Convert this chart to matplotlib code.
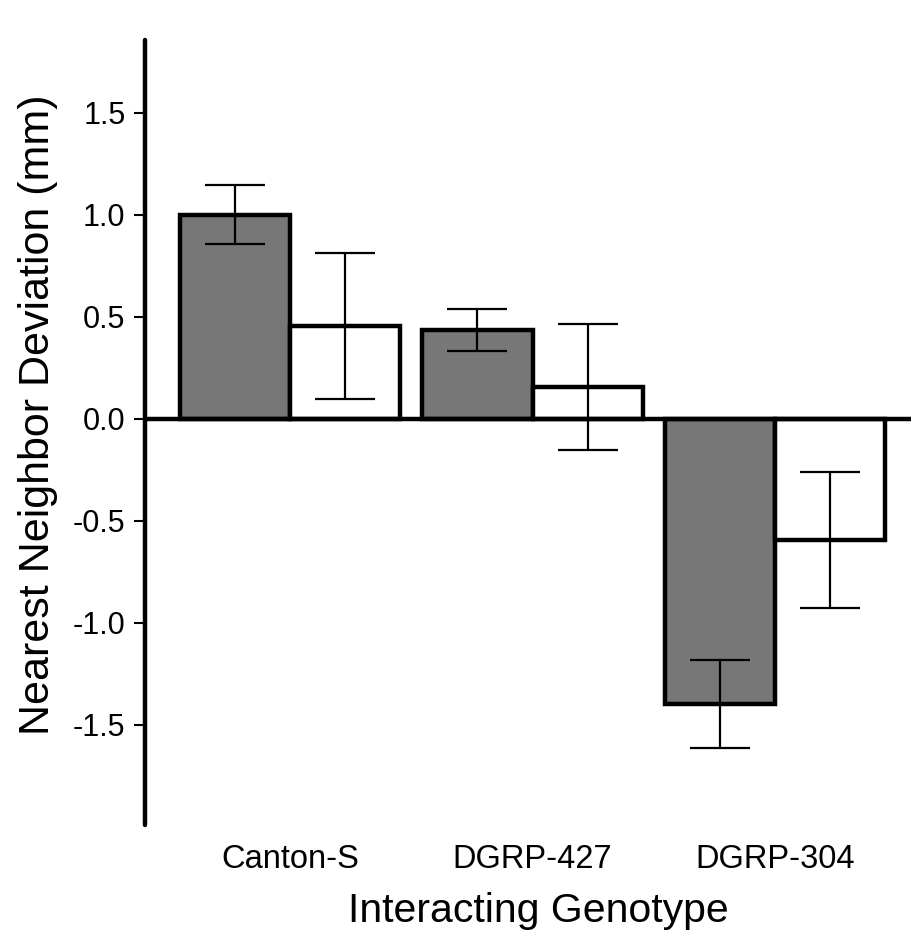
import numpy as np
import matplotlib.pyplot as plt

# mean deviation and standard error per interacting genotype
genotypes = ["Canton-S", "DGRP-427", "DGRP-304"]
dark_means = [1.00, 0.435, -1.397]
dark_err = [0.145, 0.102, 0.215]
light_means = [0.455, 0.155, -0.595]
light_err = [0.357, 0.31, 0.333]

plt.rcParams['font.family'] = ['Liberation Sans', 'DejaVu Sans']

fig = plt.figure(figsize=(9.11, 9.36), dpi=100)
ax = fig.add_axes([0.159, 0.1186, 0.841, 0.8387])

x = np.arange(len(genotypes))
w = 0.454

ax.bar(x - w / 2, dark_means, w, color="#777777", edgecolor="black", linewidth=3.2, zorder=2)
ax.bar(x + w / 2, light_means, w, color="white", edgecolor="black", linewidth=3.2, zorder=2)
ax.errorbar(x - w / 2, dark_means, yerr=dark_err, fmt="none", ecolor="black",
            elinewidth=1.6, capsize=21.5, capthick=1.6, zorder=3)
ax.errorbar(x + w / 2, light_means, yerr=light_err, fmt="none", ecolor="black",
            elinewidth=1.6, capsize=21.5, capthick=1.6, zorder=3)

ax.axhline(0, color="black", linewidth=3.2, zorder=4)

ax.set_xlim(-0.598, 2.56)
ax.set_ylim(-1.99, 1.856)
ax.set_yticks([-1.5, -1.0, -0.5, 0.0, 0.5, 1.0, 1.5])
ax.set_yticklabels(["-1.5", "-1.0", "-0.5", "0.0", "0.5", "1.0", "1.5"])
ax.set_xticks(x)
ax.set_xticklabels(genotypes)

for s in ["top", "right", "bottom"]:
    ax.spines[s].set_visible(False)
ax.spines["left"].set_linewidth(3.2)
ax.spines["left"].set_capstyle("round")

ax.tick_params(axis="y", length=8, width=1.5, labelsize=22, pad=6)
ax.tick_params(axis="x", length=0, labelsize=23.5, pad=14)

ax.set_ylabel("Nearest Neighbor Deviation (mm)", fontsize=31, va="center")
ax.yaxis.set_label_coords(-0.14, 0.522)
ax.set_xlabel("Interacting Genotype", fontsize=29.5, va="top")
ax.xaxis.set_label_coords(0.513, -0.085)

fig.savefig("out.png", dpi=100)
